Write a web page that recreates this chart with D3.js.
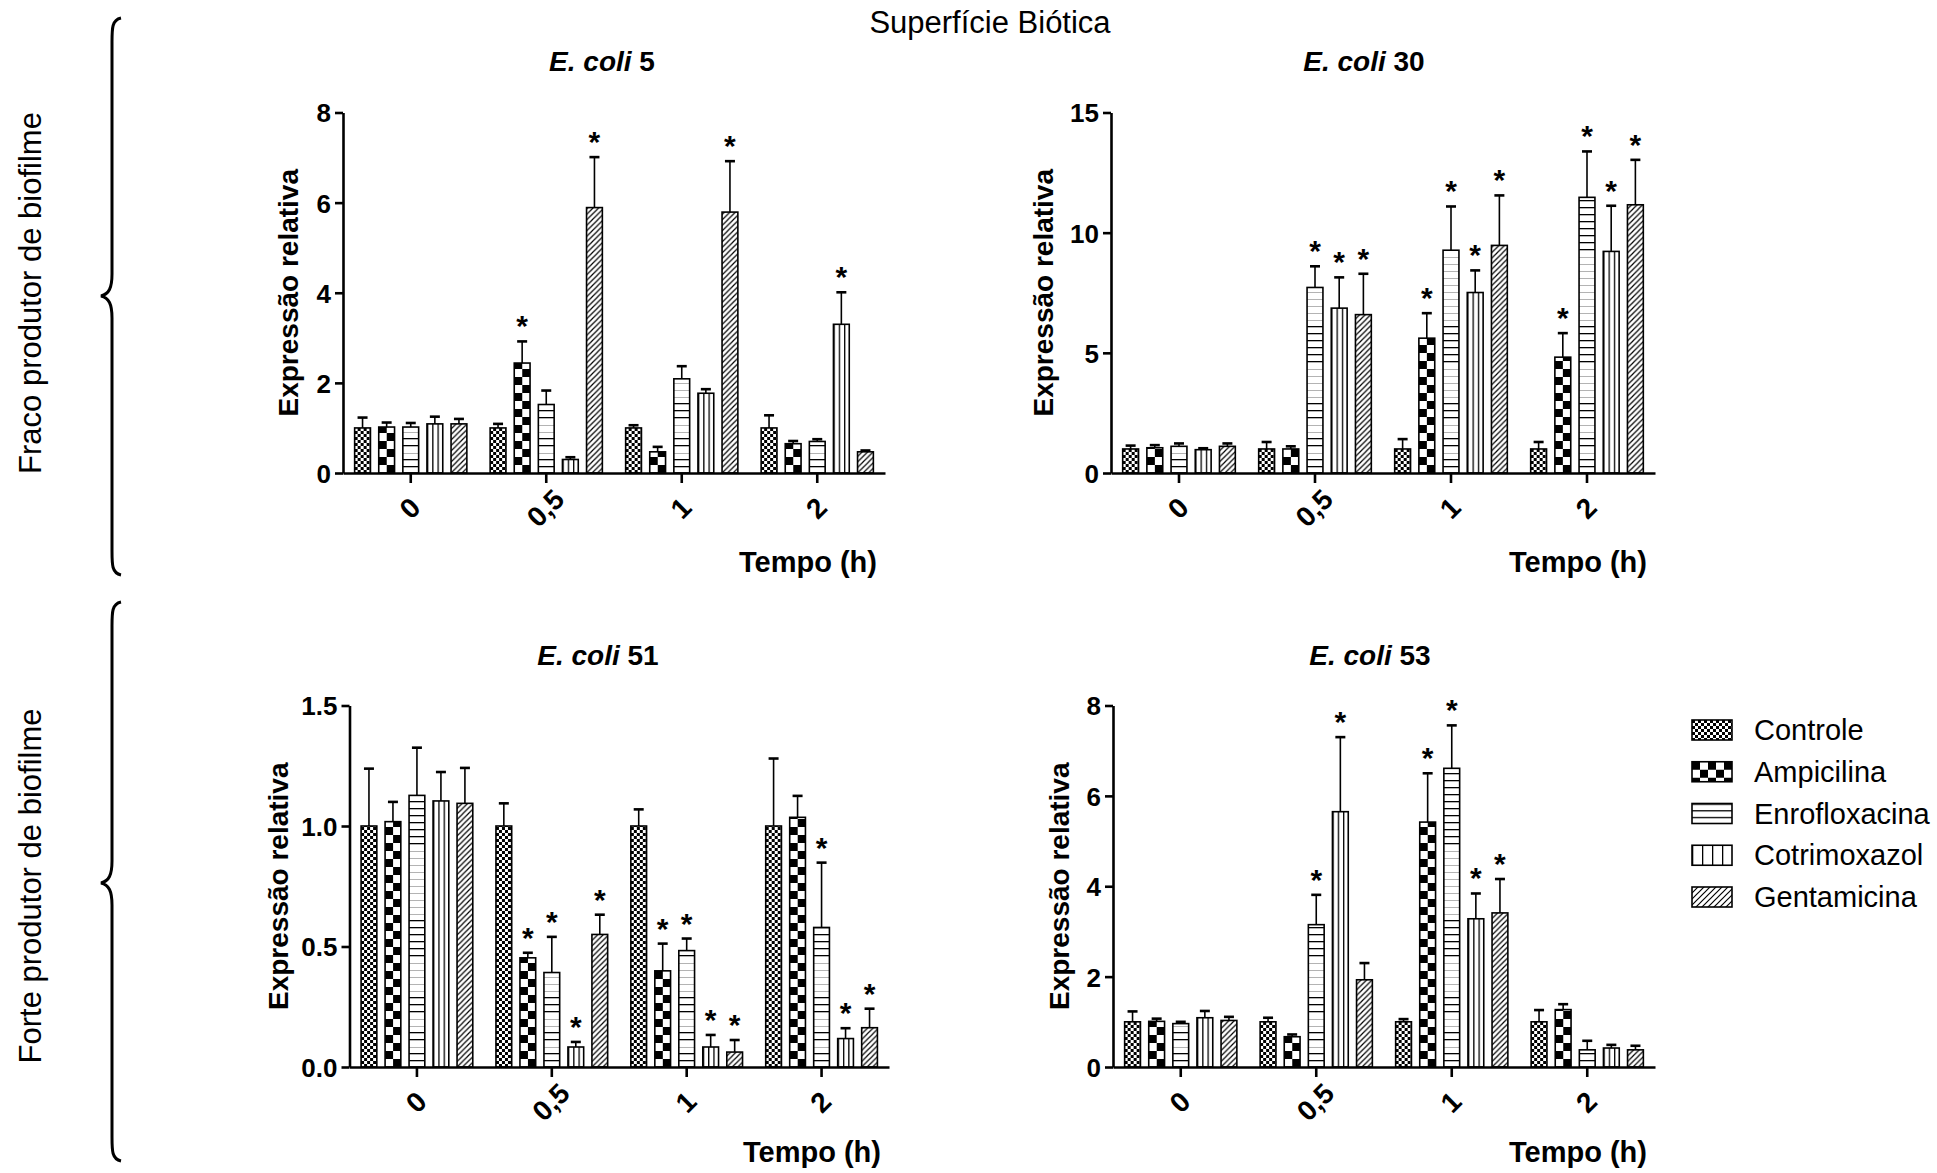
<!DOCTYPE html>
<html>
<head>
<meta charset="utf-8">
<script src="https://cdn.jsdelivr.net/npm/d3@7"></script>
<style>
  body { margin: 0; background: #fff; }
  svg { font-family: "Liberation Sans", Arial, sans-serif; }
</style>
</head>
<body>
<svg width="1937" height="1173"></svg>
<script>
const tempos = ["0", "0,5", "1", "2"];
const tratamentos = ["Controle", "Ampicilina", "Enrofloxacina", "Cotrimoxazol", "Gentamicina"];

// one row per tempo, one column per tratamento
const ecoli5Media = [
  [1.00, 1.02, 1.02, 1.09, 1.09],
  [1.00, 2.44, 1.52, 0.30, 5.89],
  [1.00, 0.47, 2.09, 1.77, 5.79],
  [1.00, 0.65, 0.70, 3.30, 0.47]
];
const ecoli5Erro = [
  [0.23, 0.10, 0.09, 0.16, 0.11],
  [0.09, 0.48, 0.31, 0.05, 1.12],
  [0.06, 0.11, 0.28, 0.09, 1.13],
  [0.28, 0.06, 0.05, 0.71, 0.03]
];
const ecoli5Sig = [
  [0, 0, 0, 0, 0],
  [0, 1, 0, 0, 1],
  [0, 0, 0, 0, 1],
  [0, 0, 0, 1, 0]
];
const ecoli5Ticks = [0, 2, 4, 6, 8];

const ecoli30Media = [
  [1.00, 1.05, 1.11, 0.97, 1.11],
  [1.00, 1.00, 7.72, 6.86, 6.59],
  [1.00, 5.61, 9.27, 7.51, 9.47],
  [1.00, 4.82, 11.47, 9.22, 11.16]
];
const ecoli30Erro = [
  [0.14, 0.11, 0.12, 0.06, 0.12],
  [0.29, 0.11, 0.88, 1.28, 1.70],
  [0.41, 1.04, 1.82, 0.92, 2.08],
  [0.29, 1.00, 1.91, 1.90, 1.87]
];
const ecoli30Sig = [
  [0, 0, 0, 0, 0],
  [0, 0, 1, 1, 1],
  [0, 1, 1, 1, 1],
  [0, 1, 1, 1, 1]
];
const ecoli30Ticks = [0, 5, 10, 15];

const ecoli51Media = [
  [1.00, 1.018, 1.127, 1.104, 1.094],
  [1.00, 0.453, 0.392, 0.083, 0.550],
  [1.00, 0.399, 0.483, 0.083, 0.062],
  [1.00, 1.036, 0.579, 0.118, 0.163]
];
const ecoli51Erro = [
  [0.238, 0.082, 0.198, 0.120, 0.147],
  [0.094, 0.021, 0.148, 0.021, 0.082],
  [0.069, 0.113, 0.050, 0.050, 0.050],
  [0.280, 0.089, 0.269, 0.043, 0.079]
];
const ecoli51Sig = [
  [0, 0, 0, 0, 0],
  [0, 1, 1, 1, 1],
  [0, 1, 1, 1, 1],
  [0, 0, 1, 1, 1]
];
const ecoli51Ticks = [0, 0.5, 1.0, 1.5];

const ecoli53Media = [
  [1.00, 1.01, 0.96, 1.09, 1.03],
  [1.00, 0.67, 3.15, 5.65, 1.93],
  [1.00, 5.42, 6.61, 3.28, 3.41],
  [1.00, 1.27, 0.38, 0.42, 0.38]
];
const ecoli53Erro = [
  [0.23, 0.06, 0.04, 0.15, 0.08],
  [0.09, 0.05, 0.66, 1.65, 0.37],
  [0.06, 1.08, 0.95, 0.56, 0.75],
  [0.26, 0.12, 0.20, 0.07, 0.09]
];
const ecoli53Sig = [
  [0, 0, 0, 0, 0],
  [0, 0, 1, 1, 0],
  [0, 1, 1, 1, 1],
  [0, 0, 0, 0, 0]
];
const ecoli53Ticks = [0, 2, 4, 6, 8];

const panels = [
  { num: "5", media: ecoli5Media, erro: ecoli5Erro, sig: ecoli5Sig, ticks: ecoli5Ticks, fmt: d3.format("d"),
    x0: 343, x1: 885, yTop: 112.5, yBot: 473, titleX: 602, titleY: 71, ylabX: 298, xlabY: 572 },
  { num: "30", media: ecoli30Media, erro: ecoli30Erro, sig: ecoli30Sig, ticks: ecoli30Ticks, fmt: d3.format("d"),
    x0: 1111, x1: 1655, yTop: 112.5, yBot: 473, titleX: 1364, titleY: 71, ylabX: 1053, xlabY: 572 },
  { num: "51", media: ecoli51Media, erro: ecoli51Erro, sig: ecoli51Sig, ticks: ecoli51Ticks, fmt: d3.format(".1f"),
    x0: 349.5, x1: 889, yTop: 705.5, yBot: 1067, titleX: 598, titleY: 665, ylabX: 288, xlabY: 1162 },
  { num: "53", media: ecoli53Media, erro: ecoli53Erro, sig: ecoli53Sig, ticks: ecoli53Ticks, fmt: d3.format("d"),
    x0: 1113, x1: 1655, yTop: 705.5, yBot: 1067, titleX: 1370, titleY: 665, ylabX: 1069, xlabY: 1162 }
];

const svg = d3.select("svg");
const defs = svg.append("defs");

// fill patterns, one set for the bars and one for the legend boxes
function makePatterns(suffix, o) {
  const checker = (name, c) => {
    const p = defs.append("pattern").attr("id", name + suffix)
      .attr("patternUnits", "userSpaceOnUse").attr("width", 2 * c).attr("height", 2 * c);
    p.append("rect").attr("width", 2 * c).attr("height", 2 * c).attr("fill", "#fff");
    p.append("rect").attr("width", c).attr("height", c).attr("fill", "#000");
    p.append("rect").attr("x", c).attr("y", c).attr("width", c).attr("height", c).attr("fill", "#000");
  };
  checker("controle", o.fine);
  checker("ampicilina", o.coarse);

  let p = defs.append("pattern").attr("id", "enro" + suffix)
    .attr("patternUnits", "userSpaceOnUse").attr("width", 10).attr("height", o.hstep);
  p.append("rect").attr("width", 10).attr("height", o.hstep).attr("fill", "#fff");
  p.append("line").attr("x1", 0).attr("x2", 10).attr("y1", 0).attr("y2", 0)
    .attr("stroke", "#000").attr("stroke-width", 2.6);

  p = defs.append("pattern").attr("id", "cotri" + suffix)
    .attr("patternUnits", "userSpaceOnUse").attr("width", o.vstep).attr("height", 10);
  p.append("rect").attr("width", o.vstep).attr("height", 10).attr("fill", "#fff");
  p.append("line").attr("x1", 0).attr("x2", 0).attr("y1", 0).attr("y2", 10)
    .attr("stroke", "#000").attr("stroke-width", 2.6);

  const d = o.dstep;
  p = defs.append("pattern").attr("id", "genta" + suffix)
    .attr("patternUnits", "userSpaceOnUse").attr("width", d).attr("height", d);
  p.append("rect").attr("width", d).attr("height", d).attr("fill", "#fff");
  p.append("path")
    .attr("d", `M0,${d} L${d},0 M${-d / 4},${d / 4} L${d / 4},${-d / 4} M${d * 0.75},${d * 1.25} L${d * 1.25},${d * 0.75}`)
    .attr("stroke", "#000").attr("stroke-width", 1.2);
}
makePatterns("", { fine: 3, coarse: 8, hstep: 7, vstep: 15.8 / 3, dstep: 5.5 });
makePatterns("-leg", { fine: 3, coarse: 8, hstep: 20 / 3, vstep: 10, dstep: 6 });

const fillIds = ["controle", "ampicilina", "enro", "cotri", "genta"];

// big title and side labels
svg.append("text").attr("x", 990).attr("y", 33).attr("text-anchor", "middle")
  .attr("font-size", 31).text("Superfície Biótica");

svg.append("text").attr("transform", "translate(41,293) rotate(-90)").attr("text-anchor", "middle")
  .attr("font-size", 31).text("Fraco produtor de biofilme");
svg.append("text").attr("transform", "translate(41,886) rotate(-90)").attr("text-anchor", "middle")
  .attr("font-size", 31).text("Forte produtor de biofilme");

function brace(top, tip, bottom) {
  const sx = 112, ex = 121, tx = 101;
  return `M${ex},${top} C${sx},${top + 2} ${sx},${top + 10} ${sx},${top + 24}` +
    ` L${sx},${tip - 22} C${sx},${tip - 8} ${sx - 3},${tip - 2} ${tx},${tip}` +
    ` C${sx - 3},${tip + 2} ${sx},${tip + 8} ${sx},${tip + 22}` +
    ` L${sx},${bottom - 24} C${sx},${bottom - 10} ${sx},${bottom - 2} ${ex},${bottom}`;
}
svg.append("path").attr("d", brace(18, 296, 575)).attr("fill", "none").attr("stroke", "#000").attr("stroke-width", 3);
svg.append("path").attr("d", brace(602, 883, 1161)).attr("fill", "none").attr("stroke", "#000").attr("stroke-width", 3);

panels.forEach((p) => {
  const g = svg.append("g");

  const x = d3.scaleBand().domain(tempos).range([p.x0, p.x1]).paddingInner(0).paddingOuter(0);
  const xs = d3.scaleBand().domain(tratamentos).range([0, x.bandwidth()])
    .paddingInner(0.344).paddingOuter(0.483);
  const y = d3.scaleLinear().domain([0, d3.max(p.ticks)]).range([p.yBot, p.yTop]);
  const bw = xs.bandwidth();

  const rows = [];
  tempos.forEach((t, i) => {
    tratamentos.forEach((tr, j) => {
      rows.push({ t, tr, j, m: p.media[i][j], e: p.erro[i][j], s: p.sig[i][j] });
    });
  });

  // bars: each in its own group so the fill pattern starts at the bar's corner
  const bars = g.selectAll(".bar").data(rows).enter().append("g")
    .attr("class", "bar")
    .attr("transform", (d) => `translate(${x(d.t) + xs(d.tr)},${p.yBot})`);
  bars.append("rect")
    .attr("x", 0)
    .attr("y", (d) => y(d.m) - p.yBot)
    .attr("width", bw)
    .attr("height", (d) => p.yBot - y(d.m))
    .attr("fill", (d) => `url(#${fillIds[d.j]})`)
    .attr("stroke", "#000").attr("stroke-width", 1.6);

  const cx = (d) => x(d.t) + xs(d.tr) + bw / 2;
  g.selectAll(".stem").data(rows).enter().append("line")
    .attr("x1", cx).attr("x2", cx)
    .attr("y1", (d) => y(d.m)).attr("y2", (d) => y(d.m + d.e))
    .attr("stroke", "#000").attr("stroke-width", 1.6);
  g.selectAll(".cap").data(rows).enter().append("line")
    .attr("x1", (d) => cx(d) - 5).attr("x2", (d) => cx(d) + 5)
    .attr("y1", (d) => y(d.m + d.e)).attr("y2", (d) => y(d.m + d.e))
    .attr("stroke", "#000").attr("stroke-width", 2.6);

  g.selectAll(".star").data(rows.filter((d) => d.s)).enter().append("text")
    .attr("x", cx).attr("y", (d) => y(d.m + d.e) - 5)
    .attr("text-anchor", "middle").attr("font-size", 30).attr("font-weight", "bold")
    .text("*");

  // axes
  const yAxis = g.append("g").attr("transform", `translate(${p.x0},0)`)
    .call(d3.axisLeft(y).tickValues(p.ticks).tickFormat(p.fmt).tickSize(8).tickSizeOuter(0).tickPadding(4));
  const xAxis = g.append("g").attr("transform", `translate(0,${p.yBot})`)
    .call(d3.axisBottom(x).tickSize(10).tickSizeOuter(0));

  [yAxis, xAxis].forEach((a) => {
    a.select(".domain").attr("stroke-width", 2.6);
    a.selectAll(".tick line").attr("stroke-width", 2.6);
    a.selectAll("text").attr("font-size", 26).attr("font-weight", "bold")
      .attr("font-family", "Liberation Sans, Arial, sans-serif").attr("fill", "#000");
  });
  xAxis.selectAll(".tick text")
    .attr("x", 0).attr("y", 0).attr("dy", 0)
    .attr("font-size", 28)
    .attr("text-anchor", "middle")
    .attr("transform", "translate(6,42) rotate(-45)");
  yAxis.selectAll(".tick text").attr("dy", "0.36em");

  // labels
  g.append("text")
    .attr("transform", `translate(${p.ylabX},${(p.yTop + p.yBot) / 2}) rotate(-90)`)
    .attr("text-anchor", "middle").attr("font-size", 28).attr("font-weight", "bold")
    .text("Expressão relativa");
  g.append("text")
    .attr("x", p.x1 - 8).attr("y", p.xlabY)
    .attr("text-anchor", "end").attr("font-size", 29).attr("font-weight", "bold")
    .text("Tempo (h)");

  const title = g.append("text").attr("x", p.titleX).attr("y", p.titleY)
    .attr("text-anchor", "middle").attr("font-size", 28).attr("font-weight", "bold");
  title.append("tspan").attr("font-style", "italic").text("E. coli");
  title.append("tspan").text(" " + p.num);
});

// legend
const legend = svg.append("g").attr("transform", "translate(1692,730)");
const items = legend.selectAll("g").data(tratamentos).enter().append("g")
  .attr("transform", (d, i) => `translate(0,${i * 41.75 - 10})`);
items.append("rect")
  .attr("width", 40).attr("height", 20)
  .attr("fill", (d, i) => `url(#${fillIds[i]}-leg)`)
  .attr("stroke", "#000").attr("stroke-width", 1.6);
items.append("text")
  .attr("x", 62).attr("y", 20)
  .attr("font-size", 29)
  .text((d) => d);
</script>
</body>
</html>
